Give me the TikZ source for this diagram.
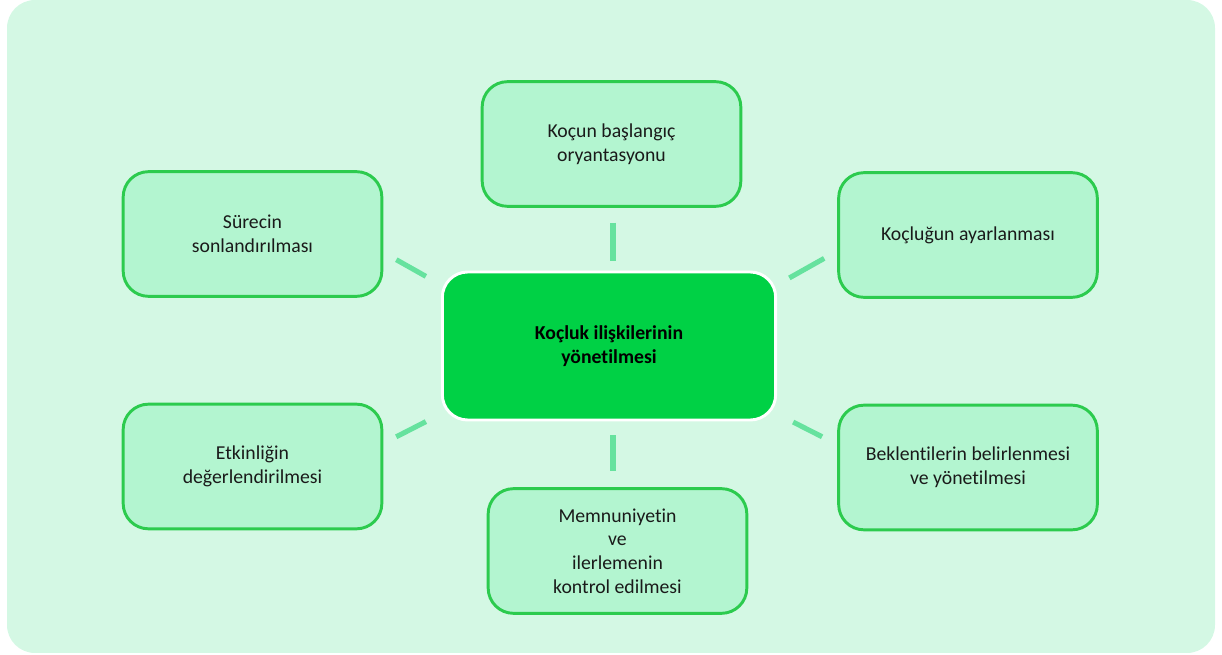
\documentclass[tikz,border=0pt]{standalone}
\usepackage{fontspec}
\setmainfont{Carlito}[Ligatures={NoCommon}]
\usepackage{tikz}

\definecolor{bgmint}{HTML}{D4F8E4}
\definecolor{boxfill}{HTML}{B3F5D0}
\definecolor{boxline}{HTML}{2CCB4E}
\definecolor{linkgreen}{HTML}{66E29E}
\definecolor{hubgreen}{HTML}{00D145}
\definecolor{txt}{HTML}{1A1A1A}

\begin{document}
\begin{tikzpicture}[x=0.75pt,y=-0.75pt,
  leaf/.style={draw=boxline, line width=2.2pt, fill=boxfill, rounded corners=19pt,
    minimum width=194pt, minimum height=93.5pt, align=center, text=txt,
    font=\fontsize{14.8}{17.8}\selectfont},
  hub/.style={draw=white, line width=2.2pt, fill=hubgreen, rounded corners=19pt,
    minimum width=250pt, minimum height=111pt, align=center, text=black,
    font=\fontsize{14.8}{17.8}\selectfont\bfseries},
  link/.style={draw=linkgreen, line width=3.8pt}]
\useasboundingbox (0,0) rectangle (1222,655);
\fill[bgmint, rounded corners=21pt] (7,0) rectangle (1215,653);

\node[hub] (hub) at (609,346) {Koçluk ilişkilerinin\\yönetilmesi};
\node[leaf] (orient) at (611.5,144) {Koçun başlangıç\\oryantasyonu};
\node[leaf] (ends) at (252.5,234) {Sürecin\\sonlandırılması};
\node[leaf] (adjust) at (968,235) {Koçluğun ayarlanması};
\node[leaf] (eval) at (252.5,466.5) {Etkinliğin\\değerlendirilmesi};
\node[leaf] (satisf) at (617.5,551) {Memnuniyetin\\ve\\ilerlemenin\\kontrol edilmesi};
\node[leaf] (expect) at (968,467.5) {Beklentilerin belirlenmesi\\ve yönetilmesi};

\draw[link, shorten <=11.2pt, shorten >=7.5pt] ([xshift=3pt]hub.north |- orient.south) -- ([xshift=3pt]hub.north);
\draw[link, shorten <=10.5pt, shorten >=12pt] ([xshift=3pt]hub.south) -- ([xshift=3pt]hub.south |- satisf.north);
\draw[link, shorten <=12.9pt, shorten >=11.2pt] (hub.160) -- (ends.-8);
\draw[link, shorten <=10.5pt, shorten >=11.2pt] (hub.20) -- (adjust.-173);
\draw[link, shorten <=12.6pt, shorten >=10.9pt] (hub.202) -- (eval.10);
\draw[link, shorten <=13.5pt, shorten >=12.7pt] (hub.-22) -- (expect.170);
\end{tikzpicture}
\end{document}
